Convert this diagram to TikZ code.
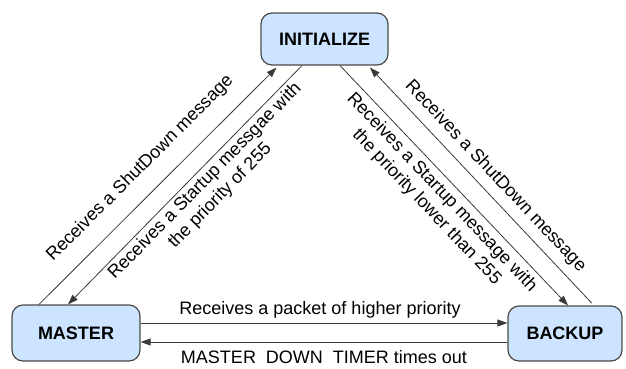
\documentclass[tikz,border=0pt]{standalone}
\usepackage{fontspec}
\setmainfont{Liberation Sans}
\usetikzlibrary{arrows.meta,calc}
\definecolor{boxblue}{HTML}{CCE4FF}
\definecolor{boxline}{HTML}{4A4A4A}
\definecolor{connline}{HTML}{3A3A3A}
\begin{document}
\begin{tikzpicture}[x=1pt,y=1pt,
  state/.style={draw=boxline, line width=1.2pt, fill=boxblue, rounded corners=11pt,
    font=\fontsize{18}{20}\selectfont\bfseries, inner sep=0pt},
  conn/.style={draw=connline, line width=0.8pt},
  arr/.style={conn, -{Triangle[length=10pt,width=7pt]}},
  lbl/.style={font=\fontsize{18}{21}\selectfont, align=center, inner sep=0pt}
]
\useasboundingbox (0,0) rectangle (626,368);
\node[state, minimum width=127pt, minimum height=52pt] (init) at (324.5,329) {INITIALIZE};
\node[state, minimum width=128pt, minimum height=56pt] (master) at (76,35) {MASTER};
\node[state, minimum width=114pt, minimum height=55pt] (backup) at (565,34.5) {BACKUP};

\draw[arr] ([xshift=-37pt]master.north) -- node[lbl, midway, sloped, above=16pt] {Receives a ShutDown message} ([xshift=-48pt,yshift=-2pt]init.south);
\draw[arr] ([xshift=-22.5pt]init.south) -- node[lbl, pos=0.45, sloped, below=3pt] {Receives a Startup messgae with\\the priority of 255} ([xshift=-8pt]master.north);
\draw[arr] ([xshift=15.5pt]init.south) -- node[lbl, pos=0.49, sloped, below=5pt] {Receives a Startup message with\\the priority lower than 255} ([xshift=3pt]backup.north);
\draw[arr] ([xshift=27pt,yshift=2pt]backup.north) -- node[lbl, pos=0.49, sloped, above=8pt] {Receives a ShutDown message} ([xshift=45.5pt,yshift=-2pt]init.south);

\draw[arr] ([yshift=10pt]master.east) -- node[lbl, above=4pt, xshift=-4pt] {Receives a packet of higher priority} ([yshift=10.5pt]backup.west);
\draw[arr] ([yshift=-8.5pt]backup.west) -- node[lbl, below=8pt] {MASTER\ \ DOWN\ \ TIMER times out} ([yshift=-9pt]master.east);
\end{tikzpicture}
\end{document}
